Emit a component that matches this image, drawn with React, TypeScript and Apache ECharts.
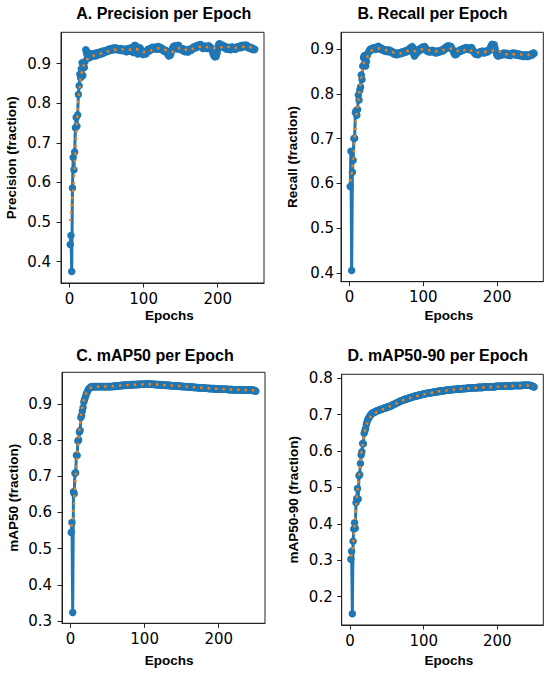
import React, { useEffect, useRef } from "react";
import * as echarts from "echarts";

// ---------- data ----------
const EPOCHS: number[] = Array.from({ length: 250 }, (_, i) => i + 1);

const SMOOTH_EPOCHS = [
  1, 2, 3, 4, 5, 6, 7, 8, 9, 10, 11, 12, 13, 14, 15, 16, 17, 18, 19, 20,
  22, 24, 26, 28, 30, 35, 40,
  50, 60, 70, 80, 90, 100, 110, 120, 130, 140, 150, 160, 170, 180, 190, 200, 210, 220, 230, 240, 250,
];

const PRECISION = [
  0.443, 0.466, 0.375, 0.586, 0.663, 0.632, 0.677, 0.738, 0.764, 0.742,
  0.770, 0.822, 0.844, 0.873, 0.864, 0.887, 0.902, 0.870, 0.895, 0.890,
  0.905, 0.935, 0.926, 0.930, 0.918, 0.922, 0.915, 0.920, 0.925, 0.918,
  0.921, 0.924, 0.919, 0.926, 0.923, 0.920, 0.927, 0.925, 0.922, 0.928,
  0.926, 0.930, 0.924, 0.929, 0.932, 0.927, 0.931, 0.929, 0.933, 0.930,
  0.934, 0.931, 0.936, 0.933, 0.935, 0.938, 0.934, 0.936, 0.939, 0.935,
  0.937, 0.940, 0.936, 0.938, 0.935, 0.937, 0.934, 0.936, 0.938, 0.933,
  0.935, 0.937, 0.934, 0.932, 0.936, 0.933, 0.930, 0.935, 0.938, 0.934,
  0.931, 0.936, 0.940, 0.937, 0.933, 0.928, 0.935, 0.946, 0.942, 0.944,
  0.930, 0.924, 0.927, 0.935, 0.940, 0.936, 0.929, 0.925, 0.923, 0.926,
  0.930, 0.928, 0.924, 0.929, 0.933, 0.936, 0.931, 0.934, 0.938, 0.935,
  0.939, 0.941, 0.937, 0.940, 0.938, 0.942, 0.939, 0.936, 0.940, 0.943,
  0.941, 0.938, 0.936, 0.940, 0.937, 0.933, 0.935, 0.931, 0.934, 0.929,
  0.932, 0.926, 0.922, 0.919, 0.924, 0.921, 0.927, 0.933, 0.938, 0.942,
  0.944, 0.940, 0.945, 0.941, 0.937, 0.943, 0.946, 0.942, 0.939, 0.936,
  0.934, 0.938, 0.935, 0.932, 0.936, 0.930, 0.933, 0.931, 0.935, 0.929,
  0.932, 0.936, 0.933, 0.937, 0.934, 0.938, 0.941, 0.939, 0.943, 0.940,
  0.944, 0.941, 0.946, 0.943, 0.947, 0.945, 0.948, 0.944, 0.941, 0.938,
  0.942, 0.939, 0.944, 0.940, 0.943, 0.938, 0.942, 0.945, 0.941, 0.938,
  0.940, 0.936, 0.930, 0.924, 0.920, 0.917, 0.922, 0.918, 0.926, 0.935,
  0.946, 0.950, 0.947, 0.949, 0.944, 0.946, 0.942, 0.945, 0.940, 0.943,
  0.939, 0.936, 0.940, 0.937, 0.941, 0.938, 0.935, 0.939, 0.942, 0.938,
  0.941, 0.937, 0.940, 0.936, 0.939, 0.942, 0.940, 0.943, 0.941, 0.944,
  0.940, 0.943, 0.946, 0.942, 0.945, 0.943, 0.947, 0.944, 0.946, 0.943,
  0.940, 0.942, 0.939, 0.941, 0.938, 0.936, 0.939, 0.937, 0.935, 0.936,
];

const PRECISION_SMOOTH = [
  0.502, 0.522, 0.542, 0.562, 0.582, 0.605, 0.640, 0.680, 0.718, 0.752,
  0.780, 0.805, 0.828, 0.848, 0.862, 0.873, 0.882, 0.889, 0.895, 0.900,
  0.906, 0.911, 0.914, 0.917, 0.919, 0.921, 0.924,
  0.930, 0.935, 0.936, 0.935, 0.937, 0.929, 0.933, 0.939, 0.934, 0.930,
  0.941, 0.933, 0.940, 0.944, 0.940, 0.938, 0.944, 0.939, 0.941, 0.944, 0.937,
];

const RECALL = [
  0.593, 0.672, 0.406, 0.625, 0.652, 0.700, 0.701, 0.758, 0.762, 0.752,
  0.765, 0.797, 0.786, 0.808, 0.815, 0.842, 0.832, 0.862, 0.880, 0.885,
  0.868, 0.862, 0.872, 0.885, 0.890, 0.893, 0.896, 0.899, 0.897, 0.901,
  0.899, 0.902, 0.900, 0.903, 0.901, 0.899, 0.902, 0.904, 0.906, 0.903,
  0.901, 0.899, 0.902, 0.900, 0.897, 0.899, 0.896, 0.898, 0.895, 0.897,
  0.894, 0.896, 0.898, 0.895, 0.893, 0.896, 0.894, 0.891, 0.893, 0.890,
  0.888, 0.891, 0.889, 0.887, 0.890, 0.888, 0.891, 0.889, 0.892, 0.890,
  0.893, 0.891, 0.894, 0.892, 0.895, 0.893, 0.896, 0.894, 0.897, 0.899,
  0.896, 0.900, 0.903, 0.901, 0.905, 0.902, 0.889, 0.884, 0.887, 0.892,
  0.895, 0.892, 0.896, 0.899, 0.897, 0.901, 0.898, 0.902, 0.904, 0.900,
  0.903, 0.905, 0.901, 0.899, 0.896, 0.894, 0.897, 0.895, 0.893, 0.896,
  0.894, 0.897, 0.895, 0.893, 0.896, 0.894, 0.891, 0.894, 0.892, 0.895,
  0.893, 0.896, 0.894, 0.897, 0.895, 0.898, 0.896, 0.899, 0.902, 0.900,
  0.903, 0.906, 0.904, 0.907, 0.905, 0.902, 0.906, 0.903, 0.900, 0.897,
  0.893, 0.889, 0.887, 0.890, 0.888, 0.892, 0.895, 0.893, 0.896, 0.898,
  0.895, 0.898, 0.900, 0.897, 0.899, 0.902, 0.900, 0.903, 0.901, 0.899,
  0.902, 0.900, 0.898, 0.901, 0.903, 0.900, 0.897, 0.895, 0.892, 0.890,
  0.888, 0.891, 0.889, 0.887, 0.890, 0.893, 0.891, 0.894, 0.892, 0.895,
  0.893, 0.891, 0.894, 0.892, 0.895, 0.893, 0.896, 0.894, 0.897, 0.899,
  0.903, 0.907, 0.910, 0.908, 0.905, 0.909, 0.902, 0.895, 0.890, 0.886,
  0.884, 0.887, 0.885, 0.888, 0.886, 0.889, 0.887, 0.890, 0.888, 0.891,
  0.889, 0.887, 0.890, 0.888, 0.886, 0.889, 0.887, 0.885, 0.888, 0.890,
  0.888, 0.891, 0.889, 0.887, 0.890, 0.888, 0.886, 0.889, 0.887, 0.885,
  0.888, 0.886, 0.884, 0.887, 0.885, 0.883, 0.886, 0.884, 0.887, 0.885,
  0.883, 0.886, 0.884, 0.887, 0.885, 0.888, 0.886, 0.889, 0.891, 0.890,
];

const RECALL_SMOOTH = [
  0.604, 0.613, 0.622, 0.635, 0.650, 0.672, 0.697, 0.722, 0.745, 0.760,
  0.772, 0.785, 0.797, 0.810, 0.822, 0.835, 0.847, 0.858, 0.866, 0.871,
  0.877, 0.882, 0.887, 0.892, 0.896, 0.899, 0.901,
  0.897, 0.892, 0.890, 0.896, 0.895, 0.900, 0.896, 0.894, 0.899, 0.901,
  0.893, 0.900, 0.892, 0.892, 0.896, 0.897, 0.888, 0.888, 0.888, 0.886, 0.889,
];

const MAP50 = [
  0.545, 0.572, 0.324, 0.657, 0.652, 0.708, 0.710, 0.758, 0.757, 0.797,
  0.800, 0.822, 0.826, 0.862, 0.868, 0.880, 0.890, 0.905, 0.912, 0.918,
  0.925, 0.930, 0.935, 0.939, 0.942, 0.944, 0.946, 0.947, 0.947, 0.948,
  0.948, 0.947, 0.948, 0.948, 0.947, 0.948, 0.948, 0.947, 0.948, 0.948,
  0.948, 0.947, 0.948, 0.948, 0.948, 0.947, 0.948, 0.948, 0.947, 0.948,
  0.948, 0.948, 0.947, 0.948, 0.948, 0.948, 0.948, 0.949, 0.948, 0.949,
  0.949, 0.949, 0.950, 0.949, 0.950, 0.950, 0.950, 0.951, 0.950, 0.951,
  0.951, 0.951, 0.951, 0.952, 0.951, 0.952, 0.952, 0.952, 0.952, 0.952,
  0.952, 0.953, 0.952, 0.953, 0.953, 0.953, 0.953, 0.953, 0.953, 0.954,
  0.953, 0.954, 0.953, 0.954, 0.954, 0.954, 0.954, 0.954, 0.954, 0.954,
  0.954, 0.955, 0.954, 0.954, 0.955, 0.954, 0.954, 0.955, 0.954, 0.954,
  0.954, 0.954, 0.953, 0.954, 0.953, 0.953, 0.953, 0.953, 0.953, 0.952,
  0.953, 0.952, 0.952, 0.952, 0.952, 0.952, 0.951, 0.952, 0.951, 0.951,
  0.951, 0.951, 0.951, 0.950, 0.951, 0.950, 0.950, 0.950, 0.950, 0.950,
  0.949, 0.950, 0.949, 0.949, 0.949, 0.949, 0.949, 0.948, 0.949, 0.948,
  0.948, 0.948, 0.948, 0.948, 0.947, 0.948, 0.947, 0.947, 0.947, 0.947,
  0.946, 0.947, 0.946, 0.946, 0.946, 0.945, 0.946, 0.945, 0.945, 0.945,
  0.945, 0.944, 0.945, 0.944, 0.944, 0.944, 0.944, 0.944, 0.943, 0.944,
  0.943, 0.943, 0.943, 0.943, 0.943, 0.942, 0.943, 0.942, 0.942, 0.942,
  0.942, 0.942, 0.942, 0.941, 0.942, 0.941, 0.941, 0.941, 0.941, 0.941,
  0.941, 0.940, 0.941, 0.940, 0.940, 0.940, 0.940, 0.940, 0.940, 0.940,
  0.940, 0.940, 0.939, 0.940, 0.939, 0.939, 0.940, 0.939, 0.939, 0.939,
  0.939, 0.939, 0.939, 0.939, 0.939, 0.939, 0.939, 0.939, 0.939, 0.938,
  0.939, 0.938, 0.939, 0.938, 0.938, 0.938, 0.938, 0.938, 0.938, 0.938,
  0.938, 0.938, 0.938, 0.938, 0.937, 0.938, 0.937, 0.937, 0.936, 0.935,
];

const MAP50_SMOOTH = [
  0.561, 0.566, 0.575, 0.600, 0.625, 0.660, 0.695, 0.728, 0.758, 0.783,
  0.806, 0.826, 0.846, 0.865, 0.879, 0.892, 0.902, 0.911, 0.918, 0.924,
  0.932, 0.938, 0.942, 0.945, 0.946, 0.947, 0.948,
  0.948, 0.949, 0.951, 0.952, 0.953, 0.954, 0.954, 0.953, 0.951, 0.950,
  0.949, 0.947, 0.945, 0.944, 0.942, 0.941, 0.940, 0.939, 0.939, 0.938, 0.937,
];

const MAP5090 = [
  0.303, 0.325, 0.153, 0.352, 0.386, 0.403, 0.388, 0.458, 0.470, 0.497,
  0.468, 0.532, 0.535, 0.566, 0.589, 0.598, 0.621, 0.620, 0.649, 0.655,
  0.662, 0.673, 0.680, 0.687, 0.690, 0.693, 0.697, 0.700, 0.702, 0.704,
  0.705, 0.706, 0.707, 0.708, 0.709, 0.710, 0.711, 0.712, 0.712, 0.713,
  0.714, 0.715, 0.715, 0.716, 0.717, 0.718, 0.718, 0.719, 0.720, 0.720,
  0.721, 0.722, 0.722, 0.723, 0.724, 0.725, 0.725, 0.727, 0.728, 0.729,
  0.730, 0.731, 0.732, 0.733, 0.734, 0.735, 0.736, 0.737, 0.738, 0.739,
  0.739, 0.740, 0.741, 0.742, 0.742, 0.743, 0.744, 0.744, 0.745, 0.746,
  0.746, 0.747, 0.748, 0.748, 0.749, 0.750, 0.750, 0.751, 0.751, 0.752,
  0.752, 0.753, 0.753, 0.754, 0.754, 0.755, 0.755, 0.756, 0.756, 0.757,
  0.757, 0.758, 0.758, 0.758, 0.759, 0.759, 0.760, 0.760, 0.760, 0.761,
  0.761, 0.761, 0.762, 0.762, 0.762, 0.763, 0.763, 0.763, 0.764, 0.764,
  0.764, 0.765, 0.765, 0.765, 0.766, 0.766, 0.766, 0.766, 0.767, 0.767,
  0.767, 0.767, 0.768, 0.768, 0.768, 0.768, 0.769, 0.769, 0.769, 0.769,
  0.769, 0.770, 0.770, 0.770, 0.770, 0.770, 0.771, 0.771, 0.771, 0.771,
  0.771, 0.771, 0.772, 0.772, 0.772, 0.772, 0.772, 0.772, 0.773, 0.773,
  0.773, 0.773, 0.773, 0.773, 0.773, 0.774, 0.774, 0.774, 0.774, 0.774,
  0.774, 0.774, 0.775, 0.775, 0.775, 0.775, 0.775, 0.775, 0.775, 0.775,
  0.776, 0.776, 0.776, 0.776, 0.776, 0.776, 0.776, 0.776, 0.777, 0.777,
  0.777, 0.777, 0.777, 0.777, 0.777, 0.777, 0.777, 0.778, 0.778, 0.778,
  0.778, 0.778, 0.778, 0.778, 0.778, 0.778, 0.778, 0.778, 0.779, 0.779,
  0.779, 0.779, 0.779, 0.779, 0.779, 0.779, 0.779, 0.779, 0.779, 0.779,
  0.780, 0.780, 0.780, 0.780, 0.780, 0.780, 0.780, 0.780, 0.780, 0.780,
  0.780, 0.780, 0.780, 0.781, 0.781, 0.781, 0.781, 0.781, 0.781, 0.781,
  0.781, 0.781, 0.781, 0.781, 0.780, 0.780, 0.779, 0.778, 0.777, 0.776,
];

const MAP5090_SMOOTH = [
  0.310, 0.315, 0.325, 0.345, 0.368, 0.392, 0.418, 0.445, 0.470, 0.492,
  0.512, 0.532, 0.552, 0.572, 0.590, 0.606, 0.620, 0.633, 0.645, 0.655,
  0.670, 0.680, 0.688, 0.695, 0.700, 0.706, 0.711,
  0.719, 0.728, 0.738, 0.745, 0.751, 0.756, 0.760, 0.764, 0.766, 0.769,
  0.771, 0.772, 0.774, 0.775, 0.776, 0.777, 0.778, 0.779, 0.780, 0.780, 0.778,
];

const TITLES = [
  "A. Precision per Epoch",
  "B. Recall per Epoch",
  "C. mAP50 per Epoch",
  "D. mAP50-90 per Epoch",
];
const Y_NAMES = [
  "Precision (fraction)",
  "Recall (fraction)",
  "mAP50 (fraction)",
  "mAP50-90 (fraction)",
];
const X_NAME = "Epochs";
const X_TICKS = [0, 100, 200];
const Y_TICKS_A = [0.4, 0.5, 0.6, 0.7, 0.8, 0.9];
const Y_TICKS_B = [0.4, 0.5, 0.6, 0.7, 0.8, 0.9];
const Y_TICKS_C = [0.3, 0.4, 0.5, 0.6, 0.7, 0.8, 0.9];
const Y_TICKS_D = [0.2, 0.3, 0.4, 0.5, 0.6, 0.7, 0.8];

// ---------- layout & style ----------
const BLUE = "#1f77b4";
const ORANGE = "#ff7f0e";
const X_MIN = -11.45;
const X_MAX = 262.45;

const PANELS = [
  {
    values: PRECISION, smooth: PRECISION_SMOOTH, yTicks: Y_TICKS_A,
    grid: { left: 61, top: 32.3, width: 203, height: 250.7 },
    yMin: 0.346, yMax: 0.979, labelMargin: 10,
    title: { x: 163.8, y: 13.5 }, yName: { x: 11, y: 157.7 }, xName: { x: 169.3, y: 315 },
  },
  {
    values: RECALL, smooth: RECALL_SMOOTH, yTicks: Y_TICKS_B,
    grid: { left: 341, top: 32.3, width: 202.3, height: 249.4 },
    yMin: 0.381, yMax: 0.937, labelMargin: 7,
    title: { x: 432.5, y: 13.5 }, yName: { x: 292.5, y: 157 }, xName: { x: 448.8, y: 315 },
  },
  {
    values: MAP50, smooth: MAP50_SMOOTH, yTicks: Y_TICKS_C,
    grid: { left: 62, top: 372.3, width: 203, height: 251 },
    yMin: 0.294, yMax: 0.987, labelMargin: 10,
    title: { x: 155, y: 355.5 }, yName: { x: 13.3, y: 497.8 }, xName: { x: 169.2, y: 660 },
  },
  {
    values: MAP5090, smooth: MAP5090_SMOOTH, yTicks: Y_TICKS_D,
    grid: { left: 341.7, top: 374.3, width: 201.6, height: 250.7 },
    yMin: 0.122, yMax: 0.811, labelMargin: 9,
    title: { x: 437.7, y: 355.5 }, yName: { x: 293.3, y: 499.7 }, xName: { x: 448.8, y: 660 },
  },
];

const TICK_FONT = { fontFamily: "DejaVu Sans", fontSize: 15, color: "#000" };

function buildOption() {
  const grids: any[] = [];
  const xAxes: any[] = [];
  const yAxes: any[] = [];
  const series: any[] = [];
  const graphics: any[] = [];

  PANELS.forEach((p, i) => {
    grids.push({
      ...p.grid,
      show: true,
      borderColor: "#222",
      borderWidth: 1,
      backgroundColor: "transparent",
    });
    xAxes.push({
      type: "value",
      gridIndex: i,
      min: X_MIN,
      max: X_MAX,
      splitLine: { show: false },
      axisLine: { show: true, onZero: false, lineStyle: { color: "#222", width: 1 } },
      axisTick: {
        show: true, length: 4.5, customValues: X_TICKS,
        lineStyle: { color: "#222", width: 1 },
      },
      axisLabel: {
        ...TICK_FONT, margin: 8, customValues: X_TICKS,
        formatter: (v: number) => String(Math.round(v)),
      },
    });
    yAxes.push({
      type: "value",
      gridIndex: i,
      min: p.yMin,
      max: p.yMax,
      splitLine: { show: false },
      axisLine: { show: true, onZero: false, lineStyle: { color: "#222", width: 1 } },
      axisTick: {
        show: true, length: 4.5, customValues: p.yTicks,
        lineStyle: { color: "#222", width: 1 },
      },
      axisLabel: {
        ...TICK_FONT, margin: p.labelMargin, customValues: p.yTicks,
        formatter: (v: number) => v.toFixed(1),
      },
    });
    series.push({
      type: "line",
      xAxisIndex: i,
      yAxisIndex: i,
      data: EPOCHS.map((e, j) => [e, p.values[j]]),
      symbol: "circle",
      symbolSize: 7.5,
      showSymbol: true,
      showAllSymbol: true,
      itemStyle: { color: BLUE, borderWidth: 0 },
      lineStyle: { color: BLUE, width: 3 },
      silent: true,
      z: 2,
    });
    series.push({
      type: "line",
      xAxisIndex: i,
      yAxisIndex: i,
      data: SMOOTH_EPOCHS.map((e, j) => [e, p.smooth[j]]),
      symbol: "none",
      showSymbol: false,
      lineStyle: { color: ORANGE, width: 2.4, type: [2.4, 5], cap: "butt" },
      silent: true,
      z: 3,
    });
    graphics.push({
      type: "text",
      x: p.title.x,
      y: p.title.y,
      style: {
        text: TITLES[i], fill: "#000", fontFamily: "Liberation Sans",
        fontWeight: "bold", fontSize: 16, align: "center", verticalAlign: "middle",
      },
    });
    graphics.push({
      type: "text",
      x: p.yName.x,
      y: p.yName.y,
      rotation: Math.PI / 2,
      style: {
        text: Y_NAMES[i], fill: "#000", fontFamily: "Liberation Sans",
        fontWeight: "bold", fontSize: 13.5, align: "center", verticalAlign: "middle",
      },
    });
    graphics.push({
      type: "text",
      x: p.xName.x,
      y: p.xName.y,
      style: {
        text: X_NAME, fill: "#000", fontFamily: "Liberation Sans",
        fontWeight: "bold", fontSize: 13.5, align: "center", verticalAlign: "middle",
      },
    });
  });

  return {
    animation: false,
    backgroundColor: "#fff",
    grid: grids,
    xAxis: xAxes,
    yAxis: yAxes,
    series,
    graphic: graphics,
  };
}

export default function App() {
  const ref = useRef<HTMLDivElement>(null);
  useEffect(() => {
    document.body.style.margin = "0";
    if (!ref.current) return;
    const chart = echarts.init(ref.current, undefined, { renderer: "svg" });
    chart.setOption(buildOption() as any);
    return () => chart.dispose();
  }, []);
  return (
    <div
      ref={ref}
      style={{ position: "absolute", left: 0, top: 0, width: 550, height: 673, background: "#fff" }}
    />
  );
}
